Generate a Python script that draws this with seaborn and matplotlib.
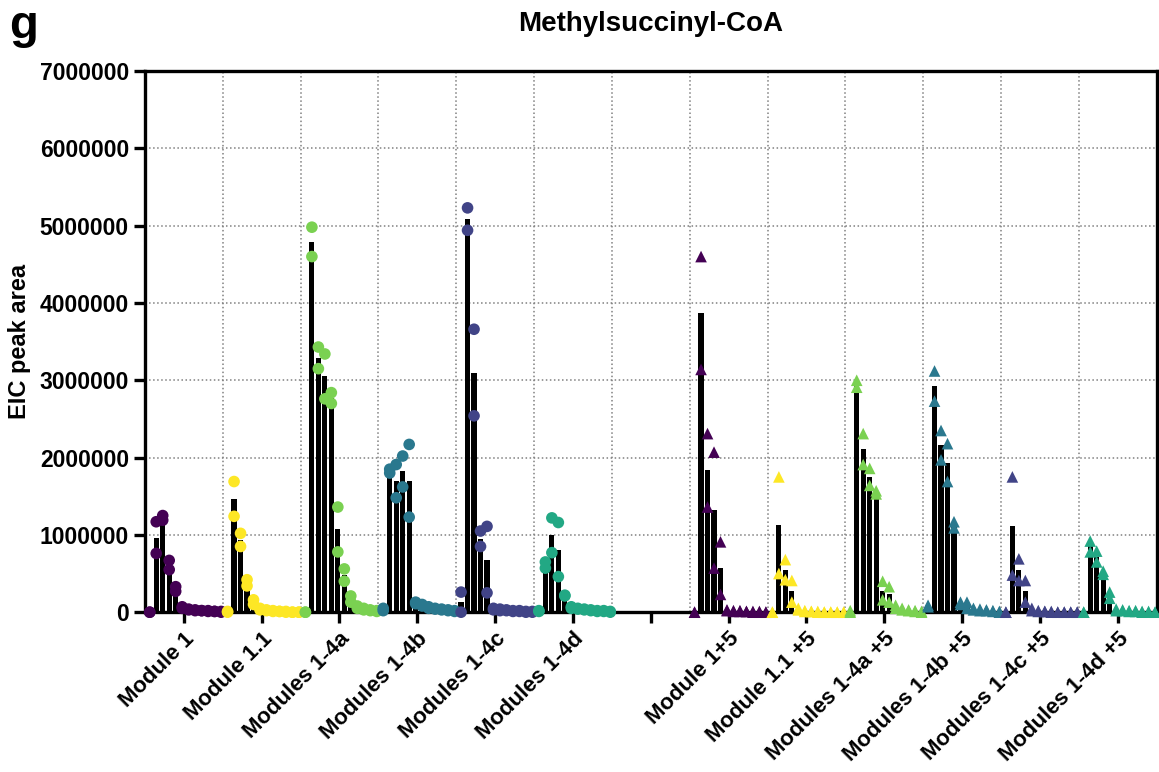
import numpy as np
import pandas as pd
import matplotlib
matplotlib.use("Agg")
import matplotlib.pyplot as plt
import seaborn as sns

# ---- data (values in millions, two replicates per fraction, 12 fractions per sample) ----
tick_labels = ["Module 1", "Module 1.1", "Modules 1-4a", "Modules 1-4b", "Modules 1-4c",
               "Modules 1-4d", "", "Module 1+5", "Module 1.1 +5", "Modules 1-4a +5",
               "Modules 1-4b +5", "Modules 1-4c +5", "Modules 1-4d +5"]
samples = ["Module 1", "Module 1.1", "Modules 1-4a", "Modules 1-4b", "Modules 1-4c", "Modules 1-4d",
           "Module 1+5", "Module 1.1 +5", "Modules 1-4a +5", "Modules 1-4b +5", "Modules 1-4c +5",
           "Modules 1-4d +5"]
sample_pos = [0, 1, 2, 3, 4, 5, 7, 8, 9, 10, 11, 12]
base_module = ["Module 1", "Module 1.1", "1-4a", "1-4b", "1-4c", "1-4d"] * 2
with_5 = [False] * 6 + [True] * 6

m1_a = [0.00, 0.76, 1.25, 0.67, 0.33, 0.07, 0.04, 0.03, 0.02, 0.02, 0.01, 0.01]
m1_b = [0.00, 1.17, 1.19, 0.55, 0.27, 0.05, 0.03, 0.02, 0.02, 0.01, 0.01, 0.00]
m11_a = [0.00, 1.69, 1.02, 0.42, 0.16, 0.05, 0.03, 0.02, 0.01, 0.01, 0.00, 0.00]
m11_b = [0.01, 1.24, 0.85, 0.34, 0.10, 0.03, 0.02, 0.01, 0.01, 0.00, 0.00, 0.00]
m4a_a = [0.00, 4.98, 3.43, 3.34, 2.84, 1.36, 0.56, 0.21, 0.08, 0.05, 0.03, 0.02]
m4a_b = [0.00, 4.60, 3.15, 2.76, 2.70, 0.78, 0.40, 0.13, 0.05, 0.03, 0.02, 0.01]
m4b_a = [0.05, 1.85, 1.91, 2.02, 2.17, 0.13, 0.10, 0.07, 0.05, 0.04, 0.03, 0.02]
m4b_b = [0.02, 1.80, 1.48, 1.62, 1.23, 0.11, 0.08, 0.05, 0.04, 0.03, 0.02, 0.01]
m4c_a = [0.26, 5.23, 3.66, 1.05, 1.11, 0.05, 0.04, 0.03, 0.02, 0.02, 0.01, 0.01]
m4c_b = [0.00, 4.94, 2.54, 0.85, 0.25, 0.03, 0.02, 0.02, 0.01, 0.01, 0.00, 0.00]
m4d_a = [0.02, 0.65, 1.22, 1.16, 0.22, 0.07, 0.05, 0.04, 0.03, 0.02, 0.02, 0.01]
m4d_b = [0.01, 0.57, 0.77, 0.46, 0.21, 0.05, 0.04, 0.03, 0.02, 0.01, 0.01, 0.00]
p1_a = [0.00, 4.60, 2.31, 2.07, 0.91, 0.03, 0.02, 0.02, 0.01, 0.01, 0.01, 0.00]
p1_b = [0.00, 3.14, 1.36, 0.57, 0.23, 0.02, 0.01, 0.01, 0.01, 0.00, 0.00, 0.00]
p11_a = [0.00, 1.75, 0.68, 0.41, 0.05, 0.02, 0.01, 0.01, 0.00, 0.00, 0.00, 0.00]
p11_b = [0.00, 0.50, 0.42, 0.13, 0.03, 0.01, 0.01, 0.00, 0.00, 0.00, 0.00, 0.00]
p4a_a = [0.02, 3.00, 2.31, 1.86, 1.57, 0.40, 0.33, 0.09, 0.05, 0.03, 0.02, 0.01]
p4a_b = [0.00, 2.91, 1.91, 1.64, 1.53, 0.16, 0.13, 0.05, 0.03, 0.02, 0.01, 0.00]
p4b_a = [0.09, 3.12, 2.35, 2.18, 1.17, 0.13, 0.13, 0.05, 0.04, 0.03, 0.02, 0.01]
p4b_b = [0.07, 2.73, 1.97, 1.69, 1.09, 0.10, 0.05, 0.03, 0.02, 0.02, 0.01, 0.00]
p4c_a = [0.00, 1.75, 0.69, 0.41, 0.05, 0.02, 0.01, 0.01, 0.00, 0.00, 0.00, 0.00]
p4c_b = [0.00, 0.48, 0.41, 0.13, 0.02, 0.01, 0.01, 0.00, 0.00, 0.00, 0.00, 0.00]
p4d_a = [0.00, 0.92, 0.79, 0.53, 0.26, 0.04, 0.03, 0.02, 0.02, 0.01, 0.01, 0.00]
p4d_b = [0.00, 0.78, 0.65, 0.49, 0.18, 0.02, 0.02, 0.01, 0.01, 0.00, 0.00, 0.00]

rep_a = [m1_a, m11_a, m4a_a, m4b_a, m4c_a, m4d_a, p1_a, p11_a, p4a_a, p4b_a, p4c_a, p4d_a]
rep_b = [m1_b, m11_b, m4a_b, m4b_b, m4c_b, m4d_b, p1_b, p11_b, p4a_b, p4b_b, p4c_b, p4d_b]

module_colors = {"Module 1": "#440154", "Module 1.1": "#FDE725", "1-4a": "#7AD151",
                 "1-4b": "#2A788E", "1-4c": "#414487", "1-4d": "#22A884"}

# ---- long table ----
rows = []
for i, name in enumerate(samples):
    for rep in (rep_a[i], rep_b[i]):
        for k, v in enumerate(rep):
            rows.append({
                "sample": name,
                "x": round(sample_pos[i] - 0.5 + (k + 0.75) / 12, 5),
                "value": v * 1e6,
                "module": base_module[i],
                "plus5": "yes" if with_5[i] else "no",
            })
df = pd.DataFrame(rows)

sns.set_style("ticks")
plt.rcParams["font.family"] = ["Liberation Sans", "DejaVu Sans"]
plt.rcParams["font.weight"] = "bold"
plt.rcParams["text.color"] = "black"
plt.rcParams["axes.labelcolor"] = "black"
plt.rcParams["xtick.color"] = "black"
plt.rcParams["ytick.color"] = "black"

fig, ax = plt.subplots(figsize=(11.59, 7.72), dpi=100)
fig.subplots_adjust(left=0.125, right=0.998, top=0.908, bottom=0.207)

sns.barplot(data=df, x="x", y="value", native_scale=True, estimator="mean", errorbar=None,
            color="black", saturation=1, width=0.8, linewidth=0, ax=ax, zorder=2)

sns.scatterplot(data=df, x="x", y="value", hue="module", palette=module_colors,
                style="plus5", markers={"no": "o", "yes": "^"}, s=70, linewidth=0,
                legend=False, ax=ax, zorder=3, clip_on=False)

ax.set_xlim(-0.5, 12.5)
ax.set_ylim(0, 7000000)
ax.set_yticks(np.arange(0, 7000001, 1000000))
ax.set_yticklabels([f"{int(v)}" for v in np.arange(0, 7000001, 1000000)],
                   fontsize=16.5, fontweight="bold")
ax.set_xticks(range(len(tick_labels)))
ax.set_xticklabels(tick_labels, rotation=45, ha="right", rotation_mode="anchor",
                   fontsize=16, fontweight="bold")
ax.set_xticks(np.arange(0.5, 12.5, 1), minor=True)
ax.tick_params(axis="both", which="major", width=2.4, length=8, direction="out",
               color="black", labelcolor="black")
ax.tick_params(axis="x", which="minor", length=0)

ax.set_axisbelow(True)
ax.grid(False)
ax.grid(axis="y", which="major", linestyle=":", color="#808080", linewidth=1.1)
ax.grid(axis="x", which="minor", linestyle=":", color="#808080", linewidth=1.1)

for side in ["left", "bottom", "top", "right"]:
    ax.spines[side].set_linewidth(2.4)
    ax.spines[side].set_color("black")

ax.set_xlabel("")
ax.set_ylabel("EIC peak area", fontsize=17, fontweight="bold", labelpad=6, color="black")
ax.set_title("Methylsuccinyl-CoA", fontsize=20, fontweight="bold", pad=29, color="black")
fig.text(0.008, 0.995, "g", fontsize=34, fontweight="bold", va="top", ha="left", color="black")

plt.savefig("out.png", dpi=100)
